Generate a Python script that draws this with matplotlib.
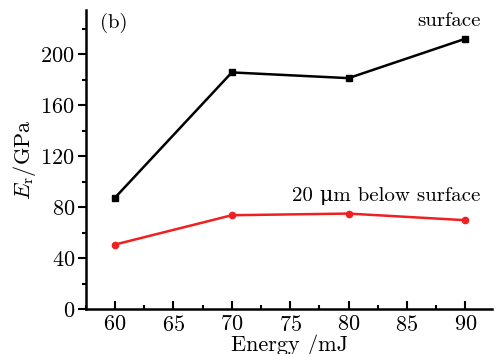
import matplotlib
matplotlib.use("Agg")
import matplotlib.pyplot as plt
from matplotlib.ticker import MultipleLocator

plt.rcParams['font.family'] = ['cmr10', 'DejaVu Serif']
plt.rcParams['mathtext.fontset'] = 'cm'
plt.rcParams['axes.formatter.use_mathtext'] = True

energy = [60, 70, 80, 90]
surface = [87.6, 185.9, 181.4, 212.3]
below = [50.7, 73.7, 75.0, 69.8]

fig = plt.figure(figsize=(4.97, 3.54), dpi=100)
ax = fig.add_axes([0.173, 0.127, 0.817, 0.845])

ax.plot(energy, surface, color='black', lw=1.8, marker='s', ms=4)
ax.plot(energy, below, color='#ee2020', lw=1.8, marker='o', ms=4.5)

ax.set_xlim(57.5, 92.3)
ax.set_ylim(0, 235)
ax.xaxis.set_major_locator(MultipleLocator(5))
ax.xaxis.set_minor_locator(MultipleLocator(2.5))
ax.yaxis.set_major_locator(MultipleLocator(40))
ax.yaxis.set_minor_locator(MultipleLocator(20))

for s in ['top', 'right']:
    ax.spines[s].set_visible(False)
for s in ['left', 'bottom']:
    ax.spines[s].set_linewidth(1.8)

ax.tick_params(axis='x', which='major', direction='in', length=6, width=1.5, labelsize=16, pad=4)
ax.tick_params(axis='x', which='minor', direction='in', length=3, width=1.5)
ax.tick_params(axis='y', which='major', direction='out', length=6, width=1.5, labelsize=16, pad=2)
ax.tick_params(axis='y', which='minor', direction='out', length=3, width=1.5)

ax.set_xlabel('Energy /mJ', fontsize=16, labelpad=0)
ax.set_ylabel(r'$E_{\rm r}$/GPa', fontsize=16, labelpad=2)

ax.text(0.035, 0.955, '(b)', transform=ax.transAxes, fontsize=15, va='center', ha='left')
ax.text(91.3, 226, 'surface', fontsize=15, ha='right', va='center')
ax.text(91.3, 89, '20 \u03bcm below surface', fontsize=15, ha='right', va='center')

fig.savefig('out.png', dpi=100)
